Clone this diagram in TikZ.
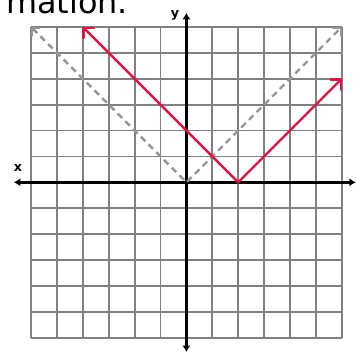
\documentclass[tikz,border=0pt]{standalone}
\usepackage{fontspec}
\setmainfont{DejaVu Sans}
\usetikzlibrary{arrows.meta}
\definecolor{gridgray}{RGB}{128,128,128}
\definecolor{dashgray}{RGB}{150,150,150}
\definecolor{vred}{RGB}{218,22,68}
\begin{document}
\begin{tikzpicture}[x=1cm,y=1cm,
  gridline/.style={gridgray,line width=2pt},
  axisline/.style={black,line width=3pt,{Latex[length=7pt,width=9pt]}-{Latex[length=7pt,width=9pt]}},
  graphred/.style={vred,line width=2.6pt,line cap=round,line join=miter,{Straight Barb[length=8pt,width=16pt,round]}-{Straight Barb[length=8pt,width=16pt,round]}},
  graphgray/.style={dashgray,line width=2.6pt,dash pattern=on 7pt off 5pt,{Straight Barb[length=6pt,width=12pt,round]}-{Straight Barb[length=6pt,width=12pt,round]}},
  axlabel/.style={font=\fontsize{14}{15}\selectfont\bfseries,inner sep=0pt}]
\useasboundingbox (-7.197,-6.591) rectangle (6.548,7.039);
\begin{scope}
\clip (-7.197,-6.591) rectangle (6.548,7.039);
\node[anchor=base east,inner sep=0pt,font=\fontsize{35}{38}\selectfont] (title) at (-2.25,6.50) {rmation.};
\end{scope}
% grid
\draw[gridline] (-6,-6) grid (6,6);
% axes
\coordinate (xl) at (-6.66,0);
\coordinate (xr) at (6.54,0);
\coordinate (yt) at (0,6.54);
\coordinate (yb) at (0,-6.55);
\draw[axisline] (xl) -- (xr);
\draw[axisline] (yb) -- (yt);
\node[axlabel] (xlab) at (-6.50,0.55) {x};
\node[axlabel] (ylab) at (-0.44,6.46) {y};
% parent graph y=|x|
\coordinate (g1) at (-6,6);
\coordinate (g0) at (0,0);
\coordinate (g2) at (6,6);
\draw[graphgray] (g1) -- (g0) -- (g2);
% transformed graph y=|x-2|
\coordinate (r1) at (-4,6);
\coordinate (r0) at (2,0);
\coordinate (r2) at (6,4);
\draw[graphred] (r1) -- (r0) -- (r2);
\end{tikzpicture}
\end{document}
